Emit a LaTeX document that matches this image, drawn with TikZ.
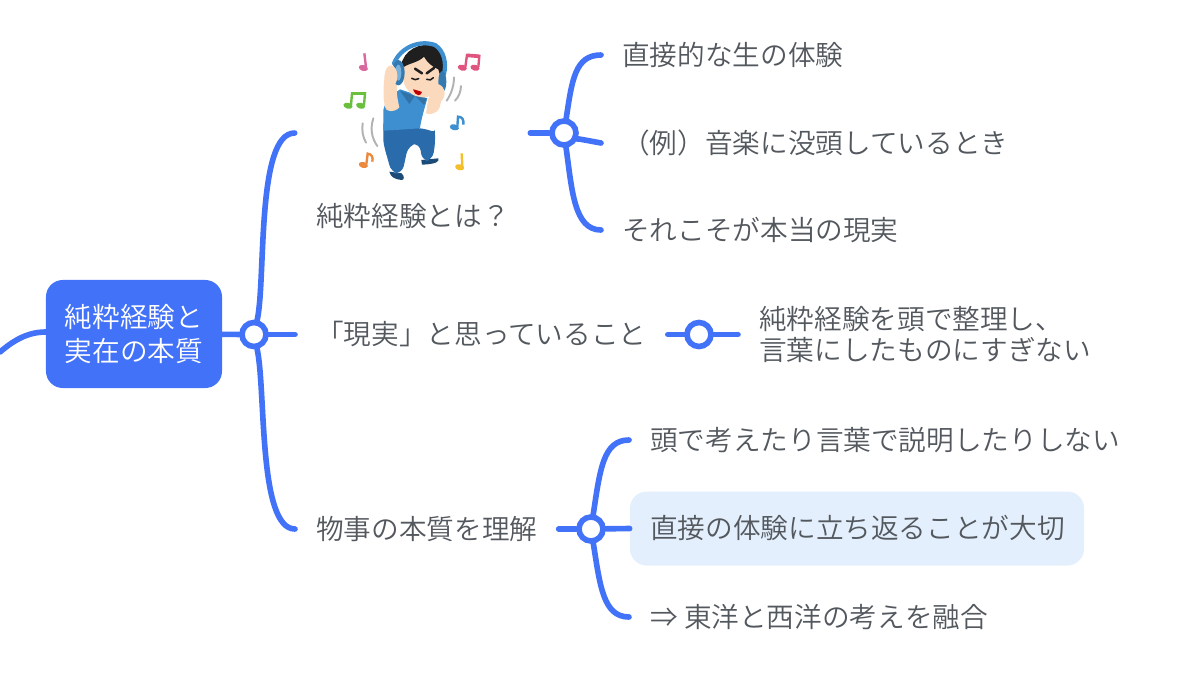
\documentclass[tikz,border=0pt]{standalone}
\usepackage{fontspec}
\setmainfont{Noto Sans CJK JP DemiLight}
\definecolor{linkblue}{HTML}{4272F8}
\definecolor{inkgrey}{HTML}{53585E}
\definecolor{softblue}{HTML}{E3EFFC}
\definecolor{skin}{HTML}{FBD9BC}
\definecolor{shirt}{HTML}{3D8FD0}
\definecolor{pants}{HTML}{2A6CAB}
\definecolor{notepink}{HTML}{D8689E}
\definecolor{noterose}{HTML}{E0557F}
\definecolor{notegreen}{HTML}{6ABF3C}
\definecolor{noteorange}{HTML}{EB8A3E}
\definecolor{noteyellow}{HTML}{F3C02B}
\newcommand{\notehead}[3]{\fill[#1,rotate around={-15:(#2,#3)}] (#2,#3) ellipse (14 and 9);}
\tikzset{
    mainnode/.style={fill=linkblue,rounded corners=0.42cm,text=white,minimum width=4.4cm,minimum height=2.7cm,align=left,inner sep=0pt},
    hubdot/.style={draw=linkblue,fill=white,circle,line width=4pt,minimum size=0.6cm,inner sep=0pt},
    leaftext/.style={text=inkgrey,inner xsep=0.525cm,inner ysep=0pt,anchor=west,align=left,text height=17.2pt,text depth=2.4pt},
    branch/.style={draw=linkblue,line width=4pt,line cap=round},
    wiggle/.style={draw=black!30,line width=1.4pt,line cap=round},
    limb/.style={line cap=round,line join=round},
}
\begin{document}
\begin{tikzpicture}[x=0.025cm,y=-0.025cm,font=\fontsize{19.65}{22.7}\selectfont]
    \useasboundingbox (0,0) rectangle (1200,672);
    %% highlight behind the middle leaf
    \node[fill=softblue,rounded corners=0.42cm,minimum width=11.35cm,minimum height=1.85cm,inner sep=0pt] (focusbox) at (857,528.5) {};
    %% root
    \node[mainnode,font=\fontsize{19.65}{24.2}\selectfont] (root) at (134,334) {純粋経験と\\実在の本質};
    \coordinate (offpage) at (0,352);
    %% hubs
    \node[hubdot] (hubroot) at (254,334.5) {};
    \node[hubdot] (hubpure) at (564,133) {};
    \node[hubdot] (hubreal) at (699,334.5) {};
    \node[hubdot] (hubgist) at (591,529) {};
    %% first level
    \node[minimum width=5.875cm,inner sep=0pt] (pure) at (412.5,133) {};
    \node[leaftext,inner xsep=0pt] (puretext) at (316,216) {純粋経験とは？};
    \node[leaftext] (real) at (295,334.5) {「現実」と思っていること};
    \node[leaftext] (gist) at (295,529) {物事の本質を理解};
    %% second level
    \node[leaftext] (pureA) at (601,55) {直接的な生の体験};
    \node[leaftext] (pureB) at (601,143) {（例）音楽に没頭しているとき};
    \node[leaftext] (pureC) at (601,230) {それこそが本当の現実};
    \node[leaftext,text height={},text depth={}] (realA) at (738,334.5) {純粋経験を頭で整理し、\\言葉にしたものにすぎない};
    \node[leaftext] (gistA) at (629,440) {頭で考えたり言葉で説明したりしない};
    \node[leaftext,inner xsep=0pt] (gistB) at (650,528) {直接の体験に立ち返ることが大切};
    \node[leaftext] (gistC) at (629,617) {⇒ 東洋と西洋の考えを融合};
    %% connectors
    \draw[branch] (root.west) ++(0,-2) .. controls (28,332) and (14,340) .. (offpage);
    \draw[branch] (root) -- (hubroot);
    \draw[branch] (hubroot) .. controls (266,280) and (256,133) .. (pure.west);
    \draw[branch] (hubroot) -- (real.west);
    \draw[branch] (hubroot) .. controls (266,390) and (258,529) .. (gist.west);
    \draw[branch] (pure.east) -- (hubpure);
    \draw[branch] (hubpure) .. controls (572,80) and (575,55) .. (pureA.west);
    \draw[branch] (hubpure) .. controls (575,138) and (590,141) .. (pureB.west);
    \draw[branch] (hubpure) .. controls (572,190) and (574,230) .. (pureC.west);
    \draw[branch] (real.east) -- (hubreal);
    \draw[branch] (hubreal) -- (realA.west);
    \draw[branch] (gist.east) -- (hubgist);
    \draw[branch] (hubgist) .. controls (600,470) and (603,440) .. (gistA.west);
    \draw[branch] (hubgist) -- (focusbox.west);
    \draw[branch] (hubgist) .. controls (600,585) and (603,617) .. (gistC.west);
    %% the listener
    \begin{scope}[shift={(320,30)},x=0.00833cm,y=-0.00833cm]
        %% motion lines
        \draw[wiggle] (128,280) .. controls (125,300) and (128,320) .. (138,338);
        \draw[wiggle] (160,265) .. controls (150,295) and (155,325) .. (172,348);
        \draw[wiggle] (402,142) .. controls (402,165) and (395,190) .. (380,212);
        \draw[wiggle] (423,168) .. controls (422,185) and (417,200) .. (405,212);
        %% notes
        \notehead{notepink}{130}{114}
        \draw[notepink,line width=1.7pt] (138,112) -- (133,70);
        \notehead{notegreen}{84}{227}
        \notehead{notegreen}{122}{227}
        \draw[notegreen,line width=1.7pt] (93,225) -- (96,190) -- (135,190) -- (132,225);
        \draw[notegreen,line width=2.6pt] (96,191) -- (135,191);
        \notehead{noterose}{427}{113}
        \notehead{noterose}{465}{113}
        \draw[noterose,line width=1.7pt] (436,111) -- (441,75) -- (478,78) -- (475,111);
        \draw[noterose,line width=2.6pt] (441,76) -- (478,79);
        \notehead{shirt}{403}{292}
        \draw[shirt,line width=1.7pt] (412,290) -- (414,260) .. controls (427,260) and (432,270) .. (430,284);
        \notehead{noteorange}{130}{405}
        \draw[noteorange,line width=1.7pt] (139,403) -- (143,371) .. controls (155,372) and (160,382) .. (157,395);
        \notehead{noteyellow}{419}{412}
        \draw[noteyellow,line width=1.7pt] (427,410) -- (425,370);
        %% trousers and shoes
        \fill[pants!70!black] (304,390) -- (355,385) .. controls (358,395) and (350,402) .. (306,404) -- cycle;
        \fill[pants!70!black] (208,425) -- (245,430) .. controls (255,440) and (252,450) .. (245,450) .. controls (225,448) and (212,442) .. (208,425) -- cycle;
        \fill[pants,rounded corners=6pt] (190,302) -- (300,292) .. controls (325,300) and (345,308) .. (347,325) -- (338,392) -- (305,394) -- (300,338) -- (265,345) -- (246,433) -- (212,428) .. controls (205,390) and (190,350) .. (190,302) -- cycle;
        %% right arm behind the shirt
        \fill[skin,limb] (325,205) -- (375,170) -- (358,235) .. controls (350,252) and (325,255) .. (318,250) -- cycle;
        %% shirt
        \fill[shirt,limb] (190,240) .. controls (195,215) and (215,195) .. (240,178) -- (322,205) .. controls (312,240) and (303,270) .. (300,295) -- (190,302) -- cycle;
        %% left arm
        \fill[skin,limb] (196,125) .. controls (188,170) and (188,225) .. (200,240) .. controls (215,248) and (232,240) .. (238,232) .. controls (232,205) and (228,185) .. (232,165) -- (245,125) -- cycle;
        %% head
        \fill[skin] (308,135) ellipse (60 and 68);
        %% collar
        \fill[shirt!80!black] (240,182) -- (285,198) -- (268,222) -- cycle;
        \fill[shirt!80!black] (285,198) -- (320,205) -- (312,225) -- cycle;
        %% hair
        \fill[black!88] (243,108) .. controls (250,60) and (300,35) .. (345,48) .. controls (375,70) and (380,115) .. (367,160) -- (355,118) .. controls (335,110) and (320,95) .. (312,80) .. controls (295,98) and (265,100) .. (250,112) -- cycle;
        %% headphones
        \draw[shirt,line width=3pt,line cap=round] (222,100) .. controls (240,55) and (295,28) .. (345,45) .. controls (372,62) and (380,100) .. (372,132);
        \fill[shirt!85!black] (235,128) ellipse (19 and 38);
        \fill[shirt!70!white] (235,128) ellipse (9 and 24);
        \fill[shirt!85!black] (367,155) ellipse (12 and 32);
        %% hands
        \fill[skin] (213,138) ellipse (19 and 32);
        \fill[skin] (350,190) ellipse (24 and 28);
        %% face
        \draw[black!88,line width=1.8pt,line cap=round] (285,116) -- (306,130) (342,114) -- (320,130);
        \draw[black!88,line width=1.1pt,line cap=round] (275,145) .. controls (282,150) and (290,150) .. (296,146) (320,148) .. controls (328,152) and (335,150) .. (340,143);
        \fill[red!75!black] (279,178) .. controls (290,180) and (300,184) .. (306,186) .. controls (304,198) and (288,202) .. (279,178) -- cycle;
    \end{scope}
\end{tikzpicture}
\end{document}
